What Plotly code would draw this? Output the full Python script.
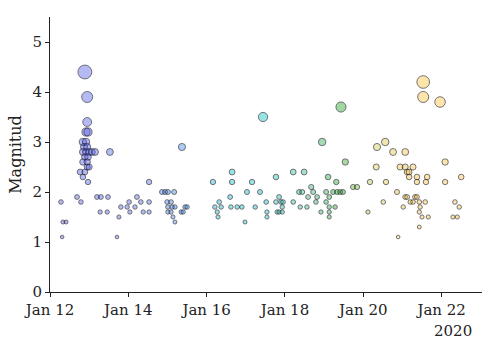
import numpy as np
import pandas as pd
import plotly.graph_objects as go

# time of each event in days after 2020-01-12 00:00, and magnitude
days = [
    0.28, 0.31, 0.33, 0.41, 0.69, 0.79,
    0.89, 0.95, 0.95, 0.92, 0.97, 0.84, 0.92, 0.87, 0.95, 0.84, 0.92, 1.00, 1.07, 1.15,
    0.89, 0.97, 0.84, 0.95, 0.95, 1.00, 0.77, 0.89, 0.84, 0.97, 1.53,
    1.20, 1.30, 1.48, 2.22,
    2.02, 2.32, 2.53,
    1.81, 1.97, 2.17,
    1.28, 1.46, 2.04, 2.38, 2.53,
    1.76, 1.71, 2.53,
    # Jan 14.5 - Jan 20
    4.65, 6.21, 6.49,
    5.77, 7.10,
    4.16, 4.65, 5.16,
    6.67,
    2.86, 2.94, 3.01, 3.17, 5.03, 5.36, 6.36, 6.44, 6.72, 7.05,
    4.60, 5.85, 6.59, 6.82, 7.13,
    2.99, 3.09, 4.32, 5.52, 5.77, 5.90, 5.95, 6.21, 6.79, 7.05,
    3.01, 3.12, 3.19, 3.45, 3.50, 4.21, 4.37, 4.62, 4.78, 4.90, 5.24, 5.93, 6.39, 6.56, 7.13,
    3.01, 3.09, 3.35, 3.40, 4.27, 5.54, 5.80, 5.85, 5.93, 6.92, 7.13,
    3.14, 4.29, 5.54, 7.13,
    3.19, 4.98,
    3.37, 5.44, 6.95,
    # Jan 20 - Jan 23
    7.43,
    9.53, 9.53, 9.96,
    8.56, 8.35, 8.76, 9.07,
    7.54, 10.09,
    8.33, 8.94, 9.07, 9.27, 9.12, 9.17, 9.17,
    9.37, 9.63, 10.50,
    7.31, 8.17, 8.58, 9.37, 9.60, 10.09,
    7.74, 7.84,
    7.23, 7.33, 7.41, 7.48, 8.86,
    9.07, 9.12, 9.32, 9.37,
    8.51, 9.20, 9.27, 9.43, 9.58, 10.34,
    7.28, 9.02, 9.45, 10.45,
    8.12, 9.43,
    9.50, 9.66, 10.29, 10.40,
    9.43,
    8.89,
]
mags = [
    1.8, 1.1, 1.4, 1.4, 1.9, 1.8,
    4.4, 3.9, 3.4, 3.2, 3.2, 3.0, 3.0, 2.9, 2.9, 2.8, 2.8, 2.8, 2.8, 2.8,
    2.7, 2.7, 2.6, 2.6, 2.5, 2.5, 2.4, 2.4, 2.3, 2.2, 2.8,
    1.9, 1.9, 1.9, 1.9,
    1.8, 1.8, 1.8,
    1.7, 1.7, 1.7,
    1.6, 1.6, 1.6, 1.6, 1.6,
    1.5, 1.1, 2.2,
    2.4, 2.4, 2.4,
    2.3, 2.3,
    2.2, 2.2, 2.2,
    2.1,
    2.0, 2.0, 2.0, 2.0, 2.0, 2.0, 2.0, 2.0, 2.0, 2.0,
    1.9, 1.9, 1.9, 1.9, 1.9,
    1.8, 1.8, 1.8, 1.8, 1.8, 1.8, 1.8, 1.8, 1.8, 1.8,
    1.7, 1.7, 1.7, 1.7, 1.7, 1.7, 1.7, 1.7, 1.7, 1.7, 1.7, 1.7, 1.7, 1.7, 1.7,
    1.6, 1.6, 1.6, 1.6, 1.6, 1.6, 1.6, 1.6, 1.6, 1.6, 1.6,
    1.5, 1.5, 1.5, 1.5,
    1.4, 1.4,
    2.9, 3.5, 3.0,
    3.7,
    4.2, 3.9, 3.8,
    3.0, 2.9, 2.8, 2.8,
    2.6, 2.6,
    2.5, 2.5, 2.5, 2.5, 2.4, 2.4, 2.3,
    2.3, 2.3, 2.3,
    2.2, 2.2, 2.2, 2.2, 2.2, 2.2,
    2.1, 2.1,
    2.0, 2.0, 2.0, 2.0, 2.0,
    1.9, 1.9, 1.9, 1.9,
    1.8, 1.8, 1.8, 1.8, 1.8, 1.8,
    1.7, 1.7, 1.7, 1.7,
    1.6, 1.6,
    1.5, 1.5, 1.5, 1.5,
    1.3,
    1.1,
]

tick_dates = ["2020-01-12", "2020-01-14", "2020-01-16", "2020-01-18", "2020-01-20", "2020-01-22"]
tick_labels = ["Jan 12", "Jan 14", "Jan 16", "Jan 18", "Jan 20", "Jan 22"]
year_label = "2020"

start = pd.Timestamp("2020-01-12")
times = start + pd.to_timedelta(np.array(days), unit="D")
mag_arr = np.array(mags)
sizes = 1.4 * np.exp(mag_arr / 2) + 1.2

colorscale = [
    [0.00, "rgba(90,90,230,0.62)"],
    [0.22, "rgba(85,110,232,0.62)"],
    [0.32, "rgba(60,140,235,0.62)"],
    [0.42, "rgba(20,195,200,0.62)"],
    [0.52, "rgba(20,195,195,0.62)"],
    [0.62, "rgba(60,185,130,0.62)"],
    [0.70, "rgba(35,165,35,0.62)"],
    [0.78, "rgba(210,205,80,0.62)"],
    [0.88, "rgba(252,195,60,0.62)"],
    [1.00, "rgba(252,200,70,0.62)"],
]

font_family = "DejaVu Serif"

fig = go.Figure()
fig.add_trace(go.Scatter(
    x=times, y=mag_arr, mode="markers",
    marker=dict(
        size=sizes, color=days, colorscale=colorscale, cmin=0, cmax=10.6,
        line=dict(color="rgba(15,15,25,0.95)", width=0.85),
    ),
    showlegend=False, hoverinfo="x+y",
))

fig.update_layout(
    width=494, height=346,
    margin=dict(l=50, r=12, t=17, b=54),
    paper_bgcolor="white", plot_bgcolor="white",
    font=dict(family=font_family, size=15, color="#222"),
    xaxis=dict(
        range=["2020-01-12 00:00", "2020-01-23 00:45"],
        tickvals=tick_dates, ticktext=tick_labels,
        showgrid=False, zeroline=False,
        showline=True, linecolor="#222", linewidth=1,
        ticks="outside", ticklen=4, tickcolor="#222", tickwidth=1,
    ),
    yaxis=dict(
        range=[0, 5.5], tickvals=[0, 1, 2, 3, 4, 5],
        showgrid=False, zeroline=False,
        showline=True, linecolor="#222", linewidth=1,
        ticks="outside", ticklen=4, tickcolor="#222", tickwidth=1,
        title=dict(text="Magnitud", font=dict(size=16), standoff=6),
    ),
    annotations=[dict(
        text=year_label, xref="paper", yref="paper", x=0.981, y=-0.14,
        xanchor="right", yanchor="middle", showarrow=False,
        font=dict(family=font_family, size=15, color="#222"),
    )],
)

fig.write_html("out.html")
